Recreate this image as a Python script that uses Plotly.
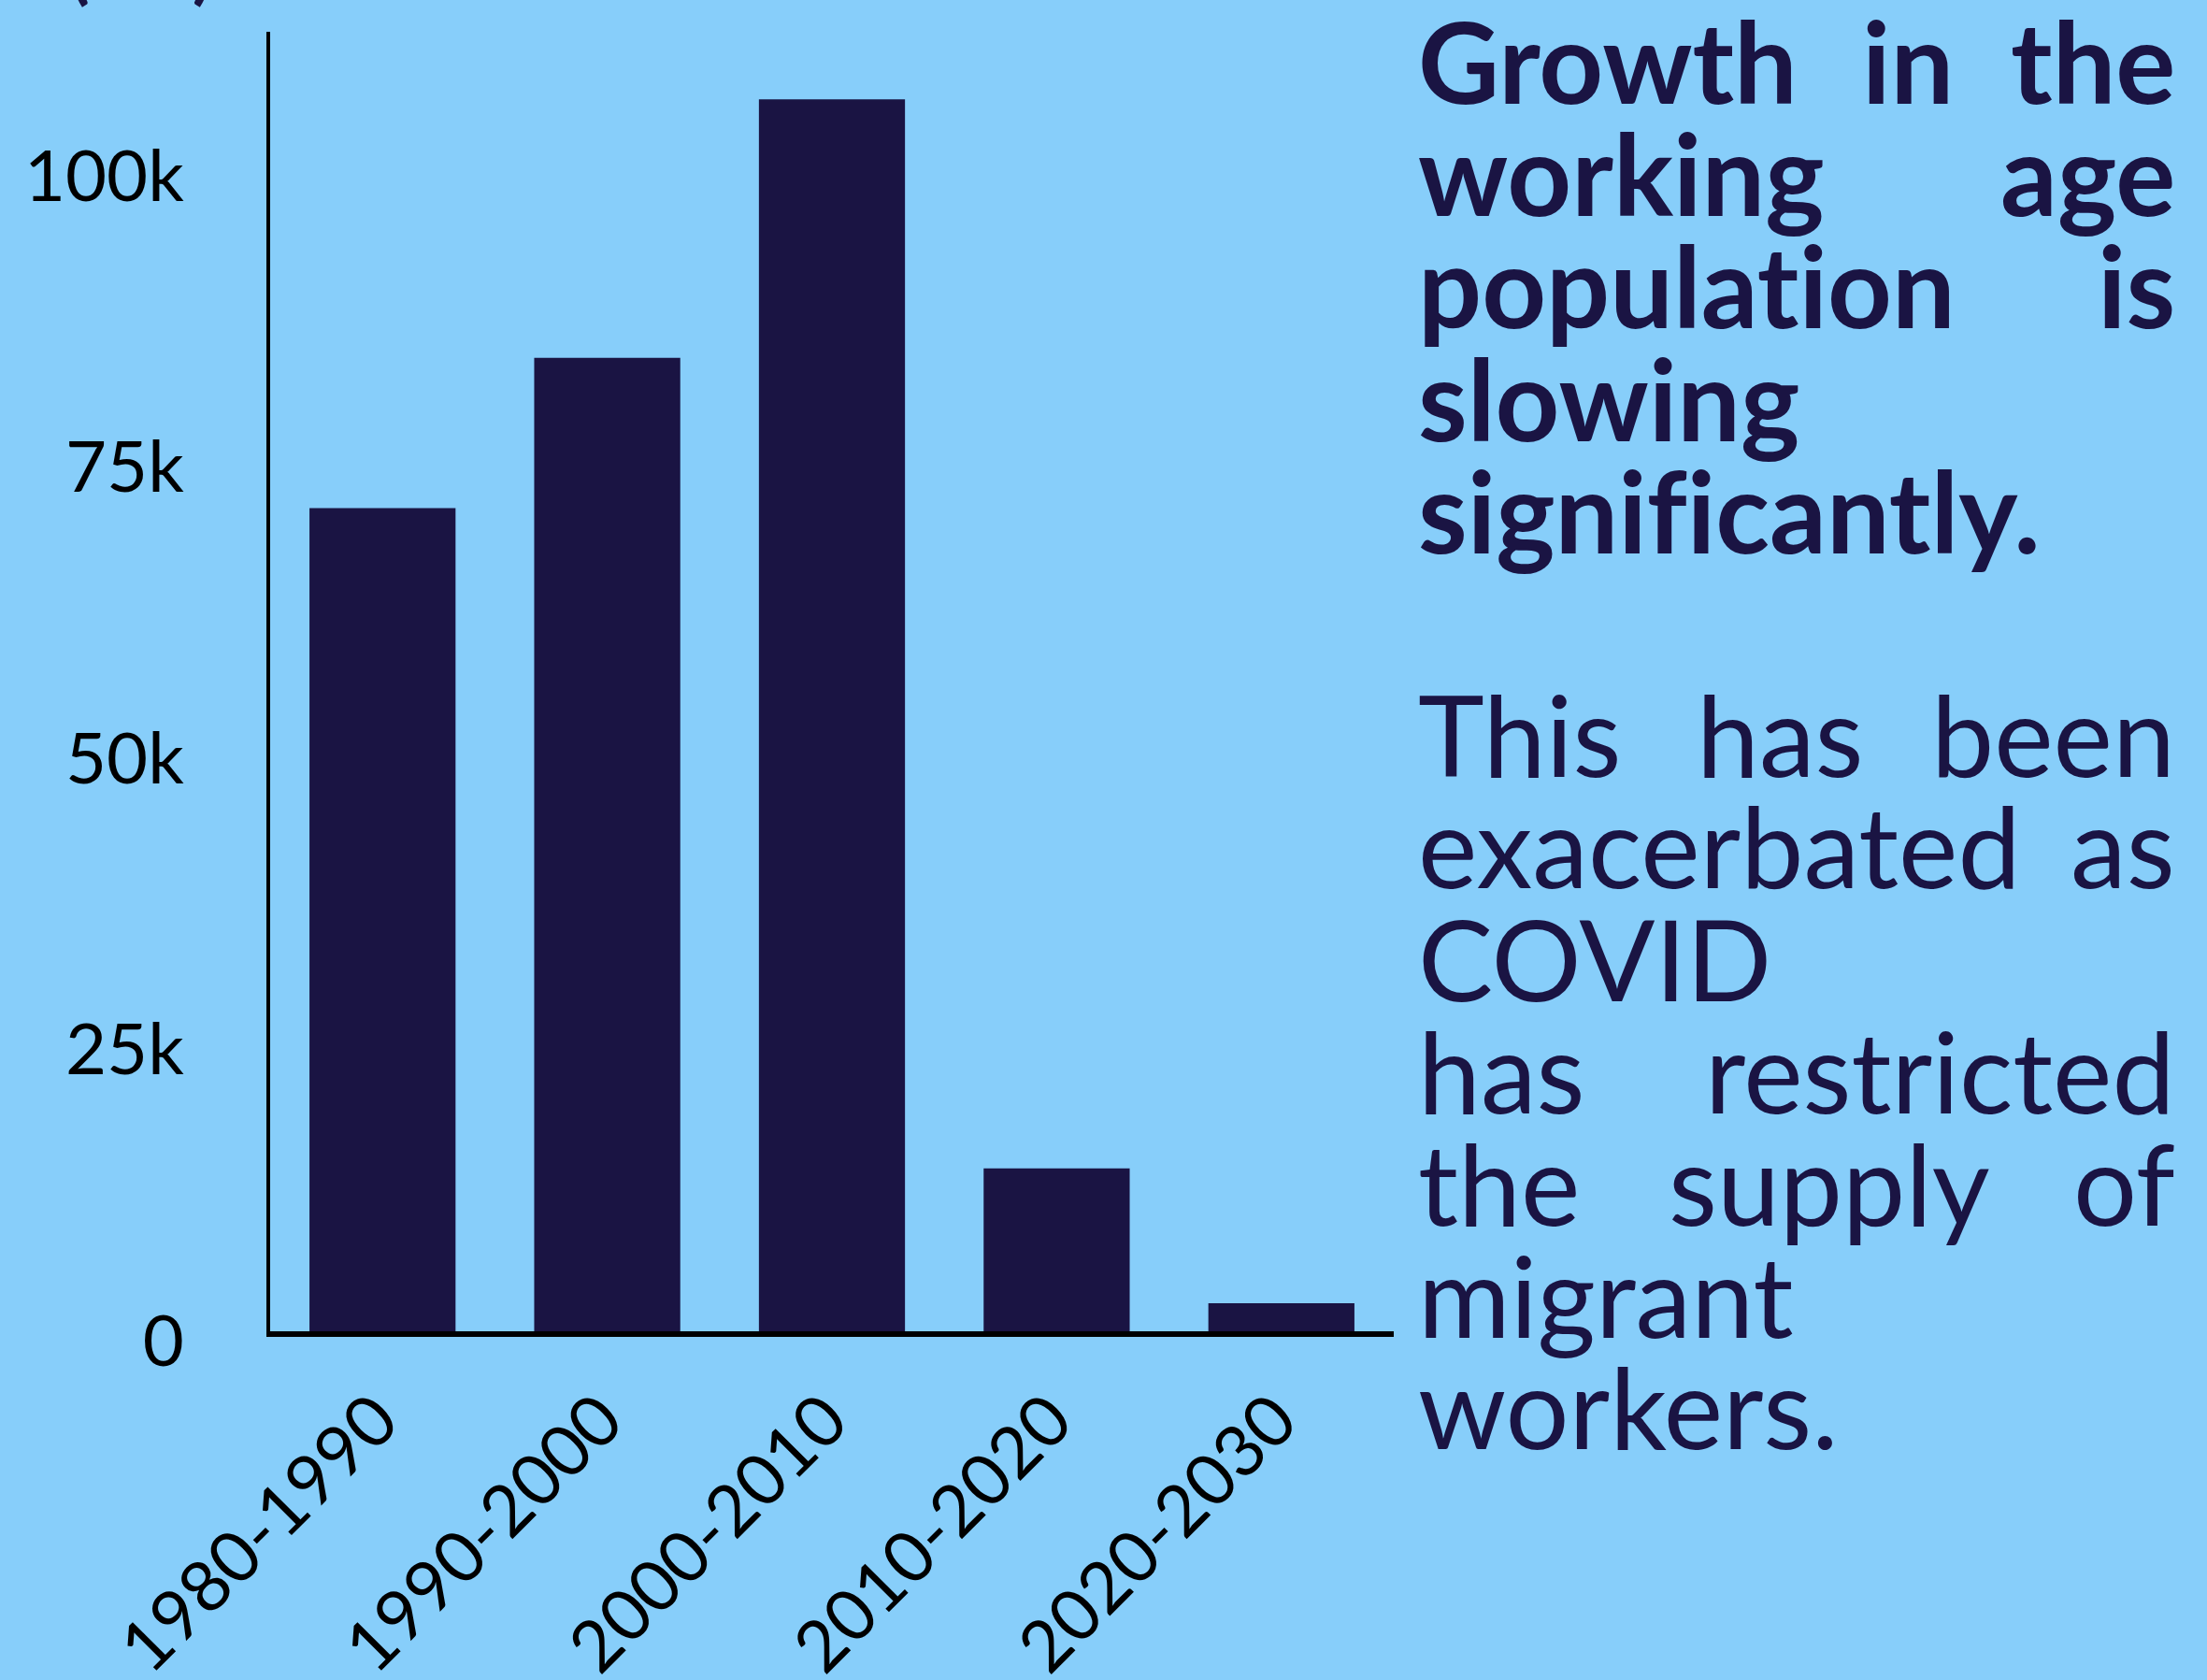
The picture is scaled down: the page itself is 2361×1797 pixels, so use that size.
import plotly.graph_objects as go

# ---- data ----
periods = ["1980-1990", "1990-2000", "2000-2010", "2010-2020", "2020-2030"]
growth = [70700, 83600, 105800, 14000, 2400]
y_ticks = [0, 25000, 50000, 75000, 100000]

ZWNJ = "\u200c"  # keeps Lato from forming ti / fi ligatures, as in the reference
heading_lines = [["Growth", "in", "the"], ["working", "age"],
                 ["populat" + ZWNJ + "ion", "is"],
                 ["slowing"], ["signif" + ZWNJ + "icantly."]]
body_lines = [["This", "has", "been"], ["exacerbated", "as"], ["COVID"],
              ["has", "restricted"], ["the", "supply", "of"], ["migrant"], ["workers."]]
axis_note = "(no.)"

# ---- layout geometry (page pixels) ----
W, H = 2361, 1797
L, R, T, B = 289, 1491, 34, 1424
NAVY = "#1a1443"
BG = "#87cefa"


def px(xp):
    return (xp - L) / (R - L)


def py(yp):
    return (B - yp) / (B - T)


fig = go.Figure(go.Bar(x=periods, y=growth, marker=dict(color=NAVY, line=dict(width=0))))

TEXT_LEFT, TEXT_RIGHT = 1515, 2329
FS = 120
head_base = [112, 232, 352, 473, 593]
body_base = [832, 951, 1072, 1192, 1312, 1432, 1551]
middle_centers = {("h", 0, 1): 2041, ("b", 0, 1): 1904, ("b", 4, 1): 1957}

annotations = []


def add_lines(lines, bases, weight, tag):
    for li, (words, base) in enumerate(zip(lines, bases)):
        n = len(words)
        for wi, w in enumerate(words):
            if wi == 0:
                xa, xp = "left", TEXT_LEFT
            elif wi == n - 1:
                xa, xp = "right", TEXT_RIGHT
            else:
                xa, xp = "center", middle_centers[(tag, li, wi)]
            annotations.append(dict(
                text=w, xref="paper", yref="paper", x=px(xp), y=py(base + 0.213 * FS + 1),
                xanchor=xa, yanchor="bottom", showarrow=False,
                font=dict(family="Lato", size=FS, color=NAVY, weight=weight)))


add_lines(heading_lines, head_base, 700, "h")
add_lines(body_lines, body_base, 400, "b")

annotations.append(dict(
    text=axis_note, xref="paper", yref="paper", x=px(151), y=py(14),
    xanchor="center", yanchor="bottom", showarrow=False,
    font=dict(family="Lato", size=80, color=NAVY, weight=700)))

fig.update_layout(
    width=W, height=H,
    margin=dict(l=L, r=W - R, t=T, b=H - B, pad=0, autoexpand=False),
    paper_bgcolor=BG, plot_bgcolor=BG,
    bargap=0.35, showlegend=False,
    font=dict(family="Lato", size=76, color="black"),
    annotations=annotations,
    xaxis=dict(showline=True, linecolor="black", linewidth=6, showgrid=False,
               zeroline=False, tickangle=-45, ticks="", ticklabelstandoff=14,
               ticklabelshift=-6, automargin=False,
               tickfont=dict(family="Lato", size=76, color="black"),
               range=[-0.5, 4.5]),
    yaxis=dict(showline=True, linecolor="black", linewidth=4, showgrid=False,
               zeroline=False, range=[0, 111600], tickvals=y_ticks, tickformat="~s",
               ticks="", ticklabelstandoff=73, ticklabelshift=10, automargin=False,
               tickfont=dict(family="Lato", size=76, color="black")),
)

fig.write_html("out.html")
